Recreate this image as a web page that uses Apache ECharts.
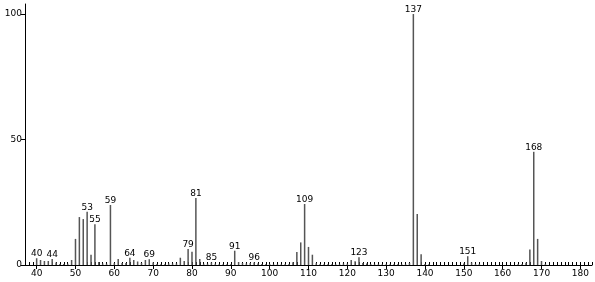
<!DOCTYPE html>
<html>
<head>
<meta charset="utf-8">
<script src="https://cdn.jsdelivr.net/npm/echarts@6/dist/echarts.min.js"></script>
<style>html,body{margin:0;padding:0;background:#fff}#c{width:595px;height:282px}</style>
</head>
<body>
<div id="c"></div>
<script>
// m/z values
var mz = [40,41,42,43,44,45,46,47,48,49,50,51,52,53,54,55,56,57,58,59,60,61,62,63,64,65,66,67,68,69,70,71,72,73,74,75,76,77,78,79,80,81,82,83,84,85,86,87,88,89,90,91,92,93,94,95,96,97,98,99,100,101,102,103,104,105,106,107,108,109,110,111,112,113,114,115,116,117,118,119,120,121,122,123,124,125,126,127,128,129,130,131,132,133,134,135,136,137,138,139,140,141,150,151,152,153,154,164,165,166,167,168,169,170,171];
// relative intensities
var intensity = [2.7,2.0,1.6,1.6,2.4,1.0,0.4,0.4,0.5,2.0,10.4,19.1,18.3,21.2,4.1,16.2,1.2,0.6,0.5,23.9,0.7,2.4,0.8,0.8,2.9,2.0,1.4,0.8,2.0,2.3,1.0,0.4,0.3,0.3,0.6,0.6,0.6,2.9,1.6,6.4,5.3,26.7,2.4,0.5,0.5,1.0,0.5,0.3,0.3,0.3,0.3,5.7,1.2,0.8,0.6,0.8,1.0,0.6,0.4,0.3,0.4,0.3,0.3,0.3,0.4,0.4,1.1,5.2,9.0,24.3,7.2,4.1,0.7,0.4,0.3,0.3,0.3,0.3,0.3,0.6,0.5,2.0,1.5,3.1,0.8,0.6,0.4,0.3,0.3,0.3,0.3,0.3,0.3,0.3,0.3,0.3,0.8,100,20.3,4.3,0.4,0.3,0.6,3.5,1.0,0.4,0.4,0.4,0.4,0.9,6.2,45.1,10.4,1.6,0.4];
// peaks annotated with their m/z
var labeledPeaks = [40,44,53,55,59,64,69,79,81,85,91,96,109,123,137,151,168];
// axis tick labels
var xTickLabels = [40,50,60,70,80,90,100,110,120,130,140,150,160,170,180];
var yTickLabels = [0,50,100];

var data = mz.map(function(m, i){
  var item = {value: [m, intensity[i]]};
  if (labeledPeaks.indexOf(m) >= 0) item.label = {show: true};
  return item;
});

var font = 'DejaVu Sans';
var chart = echarts.init(document.getElementById('c'), null, {renderer: 'canvas'});
chart.setOption({
  animation: false,
  backgroundColor: '#fff',
  grid: {left: 25, right: 3, top: 4, bottom: 17, containLabel: false, outerBoundsMode: 'none'},
  xAxis: [{
    type: 'value', min: 37, max: 183, position: 'bottom',
    axisLine: {show: true, lineStyle: {color: '#000', width: 1}},
    axisTick: {show: true, length: 4, inside: false, customValues: xTickLabels, lineStyle: {color: '#000'}},
    axisLabel: {show: true, customValues: xTickLabels, color: '#000', fontFamily: font, fontSize: 9, margin: 4},
    splitLine: {show: false}
  }, {
    type: 'value', min: 37, max: 183, interval: 1, position: 'bottom',
    axisLine: {show: false},
    axisTick: {show: true, length: 3, inside: true, lineStyle: {color: '#000'}},
    axisLabel: {show: false},
    splitLine: {show: false}
  }],
  yAxis: {
    type: 'value', min: 0, max: 104,
    axisLine: {show: true, lineStyle: {color: '#000', width: 1}},
    axisTick: {show: true, length: 4, customValues: yTickLabels, lineStyle: {color: '#000'}},
    axisLabel: {show: true, customValues: yTickLabels, color: '#000', fontFamily: font, fontSize: 9, margin: 3},
    splitLine: {show: false}
  },
  series: [{
    type: 'bar',
    xAxisIndex: 0,
    barWidth: 1.5,
    itemStyle: {color: '#555'},
    label: {show: false, position: 'top', distance: 0, color: '#000', fontFamily: font, fontSize: 9,
      formatter: function(p){ return String(p.value[0]); }},
    data: data
  }]
});
</script>
</body>
</html>
